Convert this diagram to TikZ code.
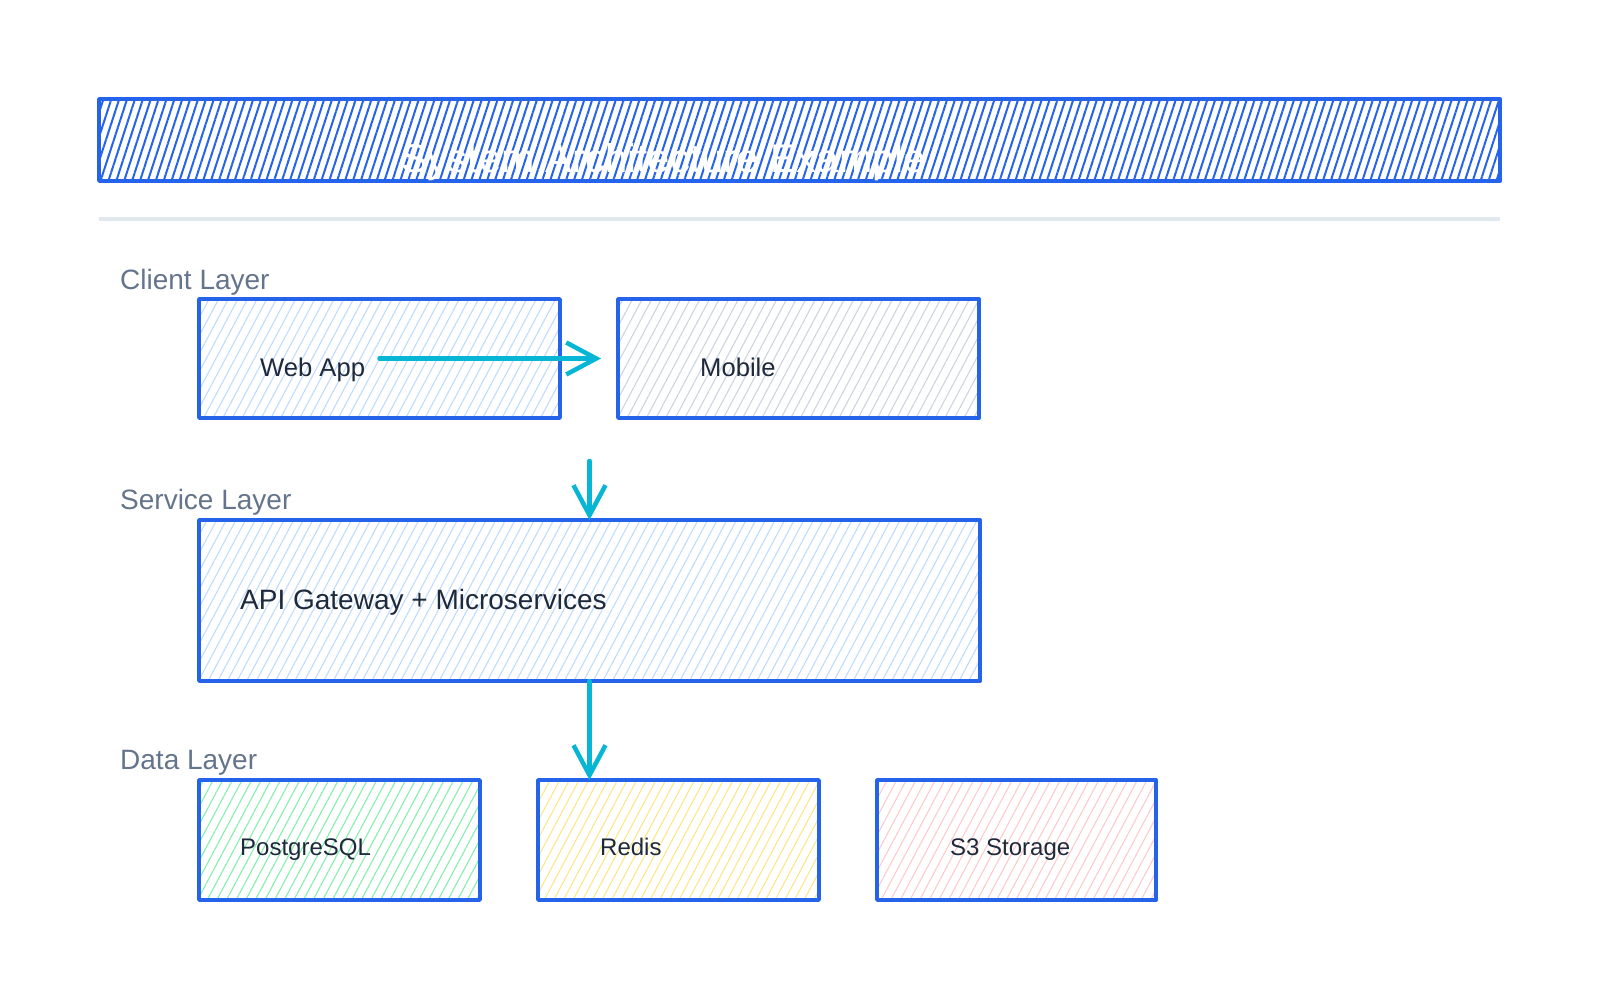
\documentclass[tikz,border=0pt]{standalone}
\usepackage{fontspec}
\setmainfont{Liberation Sans}
\usepackage{xcolor}
\definecolor{sketchBlue}{HTML}{2563EB}
\definecolor{sketchCyan}{HTML}{06B6D4}
\definecolor{sketchInk}{HTML}{1E293B}
\definecolor{sketchGray}{HTML}{64748B}
\definecolor{sketchRule}{HTML}{E2E8F0}
\definecolor{hatchBlue}{HTML}{BFDBFE}
\definecolor{hatchSlate}{HTML}{CBD5E1}
\definecolor{hatchGreen}{HTML}{86EFAC}
\definecolor{hatchYellow}{HTML}{FDE68A}
\definecolor{hatchRed}{HTML}{FECACA}
\usetikzlibrary{arrows.meta, positioning, patterns.meta}

\begin{document}
\begin{tikzpicture}[x=1pt, y=-1pt,
  layerbox/.style={rectangle, draw=sketchBlue, line width=3.8pt, line join=round,
                   inner sep=0pt, outer sep=0pt, anchor=north west},
  hatch/.style={pattern={Lines[angle=62, distance=8.5pt, line width=1.1pt]},
                pattern color=#1},
  boxtext/.style={inner sep=0pt, anchor=base west, text=sketchInk,
                  font=\fontsize{25.6pt}{30pt}\selectfont},
  layerlabel/.style={inner sep=0pt, anchor=base west, text=sketchGray,
                     font=\fontsize{28pt}{32pt}\selectfont},
  flow/.style={-{Straight Barb[length=30pt, width=32pt]}, draw=sketchCyan,
               line width=4.5pt, line cap=round},
]
  \useasboundingbox (0,0) rectangle (1600,1000);

  % title banner
  \node[layerbox, minimum width=1401pt, minimum height=82pt,
        pattern={Lines[angle=72, distance=7.5pt, line width=2pt]},
        pattern color=sketchBlue] (title) at (99,99) {};
  \node[inner sep=0pt, anchor=base west, text=white,
        font=\fontsize{40pt}{44pt}\selectfont] (titlet) at (401,173) {System Architecture Example};
  \draw[sketchRule, line width=4pt] (99,219) -- (1500,219);

  % client layer
  \node[layerlabel] (clientl) at (120,290) {Client Layer};
  \node[layerbox, hatch=hatchBlue, minimum width=361pt, minimum height=119pt] (web) at (199,299) {};
  \node[layerbox, hatch=hatchSlate, minimum width=361pt, minimum height=119pt,
        right=58pt of web] (mob) {};
  \node[boxtext] (webt) at (260,376) {Web App};
  \node[boxtext] (mobt) at (700,376) {Mobile};

  % service layer
  \node[layerlabel] (servicel) at (120,509) {Service Layer};
  \node[layerbox, hatch=hatchBlue, minimum width=781pt, minimum height=161pt,
        below=102pt of web.south west, anchor=north west] (api) {};
  \node[boxtext, font=\fontsize{28pt}{32pt}\selectfont] (apit) at (240,609) {API Gateway + Microservices};

  % data layer
  \node[layerlabel] (datal) at (120,769) {Data Layer};
  \node[layerbox, hatch=hatchGreen, minimum width=281pt, minimum height=120pt,
        below=99pt of api.south west, anchor=north west] (pg) {};
  \node[layerbox, hatch=hatchYellow, minimum width=281pt, minimum height=120pt,
        right=58pt of pg] (red) {};
  \node[layerbox, hatch=hatchRed, minimum width=279pt, minimum height=120pt,
        right=58pt of red] (s3) {};
  \node[boxtext, font=\fontsize{24pt}{28pt}\selectfont] (pgt) at (240,855) {PostgreSQL};
  \node[boxtext, font=\fontsize{24pt}{28pt}\selectfont] (redt) at (600,855) {Redis};
  \node[boxtext, font=\fontsize{24pt}{28pt}\selectfont] (s3t) at (950,855) {S3 Storage};

  % connectors
  \coordinate (clientout) at ([yshift=59pt]api.north);
  \draw[flow, shorten >=17pt] (web.center) -- (mob.west);
  \draw[flow] (clientout) -- (api.north);
  \draw[flow] (api.south) -- (api.south |- red.north);
\end{tikzpicture}
\end{document}
